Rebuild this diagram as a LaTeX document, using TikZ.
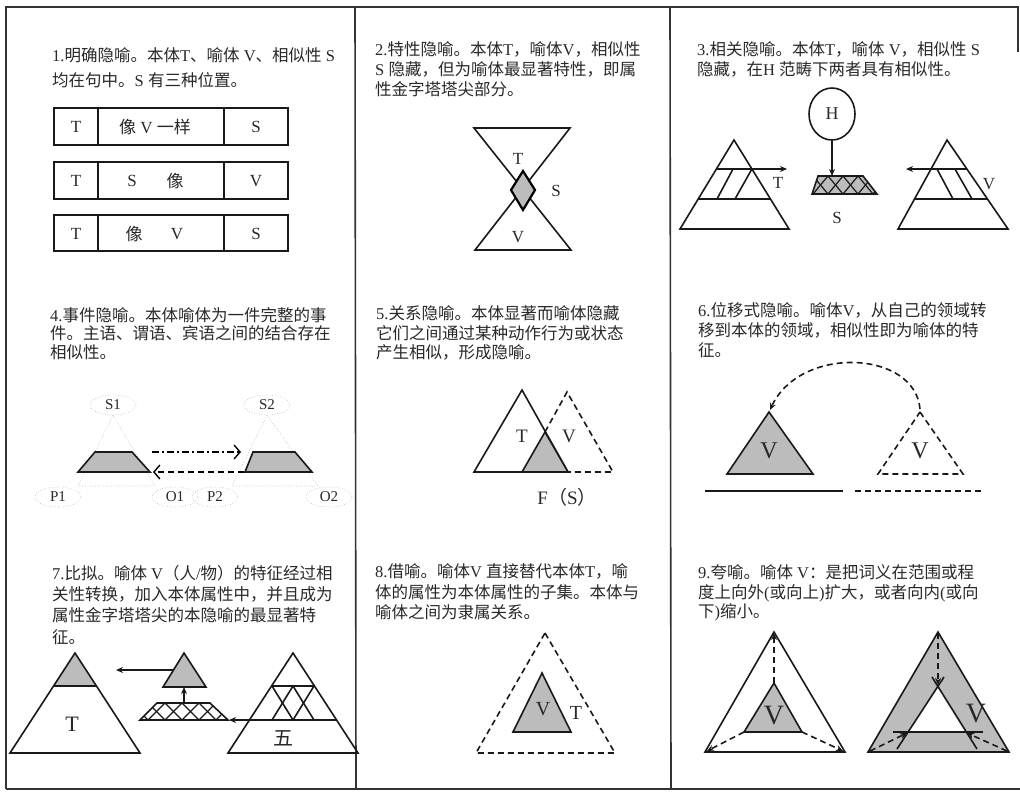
\documentclass[tikz,border=0pt]{standalone}
\usepackage{fontspec}
\setmainfont{Liberation Serif}
\newfontfamily\cjk{Noto Sans CJK SC}
\newfontfamily\lat{Liberation Serif}
\usetikzlibrary{arrows.meta,shapes.geometric}
\XeTeXinterchartokenstate=1
\newXeTeXintercharclass\CJKcls
\newcount\cc
\cc="3000 \loop\XeTeXcharclass\cc=\CJKcls \ifnum\cc<"303F \advance\cc by 1 \repeat
\cc="4E00 \loop\XeTeXcharclass\cc=\CJKcls \ifnum\cc<"9FFF \advance\cc by 1 \repeat
\cc="FF00 \loop\XeTeXcharclass\cc=\CJKcls \ifnum\cc<"FFEF \advance\cc by 1 \repeat
\XeTeXinterchartoks 0 \CJKcls = {\cjk}
\XeTeXinterchartoks 4095 \CJKcls = {\cjk}
\XeTeXinterchartoks \CJKcls 0 = {\lat}
\XeTeXinterchartoks \CJKcls 4095 = {\lat}
\definecolor{gfillc}{RGB}{188,188,188}
\definecolor{inkc}{RGB}{40,40,40}
\tikzset{
 txt/.style={anchor=west, inner sep=0pt, text=inkc, font=\fontsize{16.5}{18}\selectfont},
 lbl/.style={inner sep=0pt, text=inkc, font=\fontsize{17}{18}\selectfont},
 shp/.style={line width=1.6pt, line join=miter, draw=black!90},
 thinl/.style={line width=1.2pt, draw=black!90},
 dsh/.style={dash pattern=on 6pt off 4pt},
 border/.style={line width=1.6pt, draw=black!80},
 dotl/.style={draw=black!30, dotted, line width=0.6pt},
 dotell/.style={ellipse, draw=black!30, dotted, line width=0.6pt, minimum width=46pt, minimum height=20pt, inner sep=0pt, text=inkc, font=\fontsize{15}{16}\selectfont},
 tip/.style={-{Stealth[length=7pt,width=6pt]}},
 barb/.style={-{Straight Barb[length=6pt,width=14pt,line width=1.4pt]}},
}
\begin{document}
\begin{tikzpicture}[x=1pt,y=-1pt]
\useasboundingbox (0,0) rectangle (1020,793);
% frame
\draw[border] (6,789) -- (6,7) -- (1018,7) -- (1018,52);
\draw[border] (6,789) -- (1020,789);
\draw[border] (355,7) -- (356,788);
\draw[border] (670,7) -- (671,788);

% ---------- panel 1
\node[txt] (t1a) at (52,55) {1.明确隐喻。本体T、喻体 V、相似性 S};
\node[txt] (t1b) at (52,80) {均在句中。S 有三种位置。};
\foreach \ya/\yb in {108/145,162/199,215/251}{
  \draw[shp] (54,\ya) rectangle (288,\yb);
  \draw[shp] (98,\ya) -- (98,\yb);
  \draw[shp] (224,\ya) -- (224,\yb);
}
\node[lbl] (r1a) at (76,127) {T};
\node[lbl] (r1b) at (155,127) {像 V 一样};
\node[lbl] (r1c) at (256,127) {S};
\node[lbl] (r2a) at (76,181) {T};
\node[lbl] (r2b) at (132,181) {S};
\node[lbl] (r2c) at (175,181) {像};
\node[lbl] (r2d) at (256,181) {V};
\node[lbl] (r3a) at (76,234) {T};
\node[lbl] (r3b) at (134,234) {像};
\node[lbl] (r3c) at (177,234) {V};
\node[lbl] (r3d) at (256,234) {S};

% ---------- panel 2
\node[txt] (t2a) at (375,49) {2.特性隐喻。本体T，喻体V，相似性};
\node[txt] (t2b) at (375,69) {S 隐藏，但为喻体最显著特性，即属};
\node[txt] (t2c) at (375,89) {性金字塔塔尖部分。};
\draw[shp] (474,128) -- (570,128) -- (475,250) -- (571,250) -- cycle;
\filldraw[fill=gfillc, line width=2.2pt, draw=black] (523,171) -- (535,190) -- (523,210) -- (511,190) -- cycle;
\node[lbl] (l2t) at (518,159) {T};
\node[lbl] (l2s) at (556,191) {S};
\node[lbl] (l2v) at (518,237) {V};

% ---------- panel 3
\node[txt] (t3a) at (697,49) {3.相关隐喻。本体T，喻体 V，相似性 S};
\node[txt] (t3b) at (697,69) {隐藏，在H 范畴下两者具有相似性。};
\node[ellipse, shp, minimum width=46pt, minimum height=52pt, inner sep=0pt, text=inkc, font=\fontsize{18}{18}\selectfont] (H) at (832,114) {H};
\coordinate (strap) at (832,176);
\filldraw[shp, fill=gfillc] (818,176) -- (863,176) -- (877,194) -- (812,194) -- cycle;
\begin{scope}
 \clip (818,176) -- (863,176) -- (877,194) -- (812,194) -- cycle;
 \foreach \x in {813,828,843,858,873}{
   \draw[thinl] (\x,176) -- (\x+15,194);
   \draw[thinl] (\x+15,176) -- (\x,194);
 }
\end{scope}
\draw[shp, tip] (H.south) -- (strap);
\node[lbl] (l3s) at (837,218) {S};
% left pyramid
\draw[shp] (734,140) -- (789,229) -- (680,229) -- cycle;
\draw[shp] (698.2,199) -- (770.5,199);
\draw[shp] (717,199) -- (733,169);
\draw[shp] (735,199) -- (751.9,169);
\coordinate (a3l) at (716.4,169);
\coordinate (a3le) at (787,169);
\draw[shp, tip] (a3l) -- (a3le);
\node[lbl] (l3t) at (778,183) {T};
% right pyramid
\draw[shp] (947,140) -- (1008,229) -- (898,229) -- cycle;
\draw[shp] (914.5,199) -- (987.4,199);
\draw[shp] (937,169) -- (953,199);
\draw[shp] (955,169) -- (972,199);
\coordinate (a3r) at (966.9,169);
\coordinate (a3re) at (906,169);
\draw[shp, tip] (a3r) -- (a3re);
\node[lbl] (l3v) at (989,184) {V};

% ---------- panel 4
\node[txt] (t4a) at (50,315) {4.事件隐喻。本体喻体为一件完整的事};
\node[txt] (t4b) at (50,333) {件。主语、谓语、宾语之间的结合存在};
\node[txt] (t4c) at (50,352) {相似性。};
\node[dotell] (S1) at (113,405) {S1};
\node[dotell] (S2) at (267,405) {S2};
\node[dotell] (P1) at (58,497) {P1};
\node[dotell] (O1) at (175,497) {O1};
\node[dotell] (P2) at (215,497) {P2};
\node[dotell] (O2) at (329,497) {O2};
\draw[dotl] (S1.south) -- (78,486) -- (155,486) -- cycle;
\draw[dotl] (S2.south) -- (232,486) -- (318,486) -- cycle;
\filldraw[shp, fill=gfillc] (95,452) -- (132,452) -- (150,472) -- (78,472) -- cycle;
\filldraw[shp, fill=gfillc] (253,452) -- (295,452) -- (312,472) -- (245,472) -- cycle;
\coordinate (e1) at (152,452);
\coordinate (e2) at (241,452);
\coordinate (e3) at (244,472);
\coordinate (e4) at (153,472);
\draw[line width=1.4pt, dash pattern=on 7pt off 3pt on 2pt off 3pt, barb] (e1) -- (e2);
\draw[line width=1.4pt, dsh, barb] (e3) -- (e4);

% ---------- panel 5
\node[txt] (t5a) at (376,313) {5.关系隐喻。本体显著而喻体隐藏};
\node[txt] (t5b) at (376,333) {它们之间通过某种动作行为或状态};
\node[txt] (t5c) at (376,352) {产生相似，形成隐喻。};
\draw[shp] (522,390) -- (568,472) -- (474,472) -- cycle;
\filldraw[shp, fill=gfillc] (545,432) -- (568,472) -- (522,472) -- cycle;
\draw[shp, dsh] (545,432) -- (567,392) -- (613,472) -- (568,472);
\node[lbl, font=\fontsize{19}{19}\selectfont] (l5t) at (522,436) {T};
\node[lbl, font=\fontsize{19}{19}\selectfont] (l5v) at (569,436) {V};
\node[lbl, font=\fontsize{19}{19}\selectfont] (l5f) at (567,497) {F（S）};

% ---------- panel 6
\node[txt] (t6a) at (698,310) {6.位移式隐喻。喻体V，从自己的领域转};
\node[txt] (t6b) at (698,330) {移到本体的领域，相似性即为喻体的特};
\node[txt] (t6c) at (698,350) {征。};
\filldraw[shp, fill=gfillc] (769,412) -- (813,474) -- (727,474) -- cycle;
\draw[shp, dsh] (920,412) -- (963,474) -- (878,474) -- cycle;
\node[lbl, font=\fontsize{24}{24}\selectfont] (l6a) at (769,451) {V};
\node[lbl, font=\fontsize{24}{24}\selectfont] (l6b) at (920,451) {V};
\coordinate (c6s) at (920,409);
\coordinate (c6e) at (770,410);
\draw[shp, dsh, tip] (c6s) .. controls (915,350) and (800,345) .. (c6e);
\draw[shp] (705,491) -- (843,491);
\draw[shp, dsh] (855,491) -- (982,491);

% ---------- panel 7
\node[txt] (t7a) at (52,573) {7.比拟。喻体 V（人/物）的特征经过相};
\node[txt] (t7b) at (52,594) {关性转换，加入本体属性中，并且成为};
\node[txt] (t7c) at (52,615) {属性金字塔塔尖的本隐喻的最显著特};
\node[txt] (t7d) at (52,637) {征。};
\fill[gfillc] (75,653) -- (96.5,686) -- (53.5,686) -- cycle;
\draw[shp] (75,653) -- (140,753) -- (10,753) -- cycle;
\draw[shp] (53.5,686) -- (96.5,686);
\node[lbl, font=\fontsize{22}{22}\selectfont] (l7t) at (72,724) {T};
\filldraw[shp, fill=gfillc] (184,653) -- (206,687) -- (163,687) -- cycle;
\coordinate (m7l) at (173.5,670);
\coordinate (m7e) at (116,670);
\draw[shp, tip] (m7l) -- (m7e);
\filldraw[shp, fill=white] (157,703) -- (210,703) -- (228,720) -- (140,720) -- cycle;
\begin{scope}
 \clip (157,703) -- (210,703) -- (228,720) -- (140,720) -- cycle;
 \foreach \x in {131,148,165,182,199,216,233}{
   \draw[thinl] (\x,703) -- (\x+17,720);
   \draw[thinl] (\x+17,703) -- (\x,720);
 }
\end{scope}
\coordinate (u7s) at (184,703);
\coordinate (u7e) at (184,687);
\draw[shp, tip] (u7s) -- (u7e);
\draw[shp] (293,653) -- (358,753) -- (228,753) -- cycle;
\draw[shp] (271.5,686) -- (314.5,686);
\draw[shp] (272,686) -- (293,720);
\draw[shp] (293,686) -- (272,720);
\draw[shp] (293,686) -- (314,720);
\draw[shp] (314,686) -- (293,720);
\coordinate (r7s) at (336.5,720);
\coordinate (r7e) at (229,720);
\draw[shp, tip] (r7s) -- (r7e);
\node[lbl, font=\fontsize{20}{20}\selectfont\cjk] (l7w) at (283,738) {五};

% ---------- panel 8
\node[txt] (t8a) at (375,571) {8.借喻。喻体V 直接替代本体T，喻};
\node[txt] (t8b) at (375,592) {体的属性为本体属性的子集。本体与};
\node[txt] (t8c) at (375,612) {喻体之间为隶属关系。};
\draw[shp, dsh] (545,633) -- (615,753) -- (476,753) -- cycle;
\filldraw[shp, fill=gfillc] (542,673) -- (571,732) -- (513,732) -- cycle;
\node[lbl, font=\fontsize{20}{20}\selectfont] (l8v) at (543,709) {V};
\node[lbl, font=\fontsize{20}{20}\selectfont] (l8t) at (576,713) {T};

% ---------- panel 9
\node[txt] (t9a) at (698,572) {9.夸喻。喻体 V：是把词义在范围或程};
\node[txt] (t9b) at (698,593) {度上向外(或向上)扩大，或者向内(或向};
\node[txt] (t9c) at (698,612) {下)缩小。};
% left
\draw[shp] (774,632) -- (845,752) -- (705,752) -- cycle;
\filldraw[shp, fill=gfillc] (774,683) -- (802,732) -- (744,732) -- cycle;
\node[lbl, font=\fontsize{28}{28}\selectfont] (l9a) at (774,716) {V};
\coordinate (i9a) at (774,683);
\coordinate (i9b) at (744,732);
\coordinate (i9c) at (802,732);
\coordinate (o9a) at (774,633);
\coordinate (o9b) at (707,751);
\coordinate (o9c) at (843,751);
\draw[shp, dsh, tip] (i9a) -- (o9a);
\draw[shp, dsh, tip] (i9b) -- (o9b);
\draw[shp, dsh, tip] (i9c) -- (o9c);
% right
\filldraw[shp, fill=gfillc] (938,632) -- (1009,752) -- (868,752) -- cycle;
\fill[white] (938,686) -- (966,732) -- (908,732) -- cycle;
\draw[shp] (897,749) -- (944,677);
\draw[shp] (977,749) -- (932,677);
\draw[shp] (893,732) -- (983,732);
\node[lbl, font=\fontsize{28}{28}\selectfont] (l9b) at (976,714) {V};
\coordinate (j9a) at (938,633);
\coordinate (j9b) at (870,751);
\coordinate (j9c) at (1007,751);
\coordinate (k9a) at (938,685);
\coordinate (k9b) at (907,733);
\coordinate (k9c) at (967,733);
\draw[shp, dsh, tip] (j9a) -- (k9a);
\draw[shp, dsh, tip] (j9b) -- (k9b);
\draw[shp, dsh, tip] (j9c) -- (k9c);
\end{tikzpicture}
\end{document}
